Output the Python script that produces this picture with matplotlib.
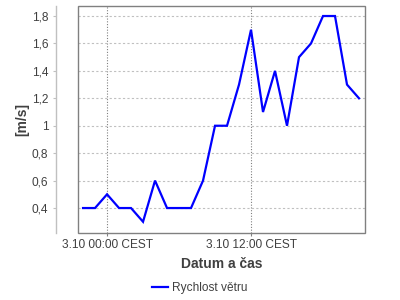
import matplotlib
matplotlib.use("Agg")
import matplotlib.pyplot as plt
from matplotlib.patches import Rectangle
import pandas as pd
import matplotlib.dates as mdates

# Data
start_time = "2024-10-02 22:00"
n_points = 24
wind_speed = [0.4, 0.4, 0.5, 0.4, 0.4, 0.3, 0.6, 0.4, 0.4, 0.4, 0.6, 1.0,
              1.0, 1.3, 1.7, 1.1, 1.4, 1.0, 1.5, 1.6, 1.8, 1.8, 1.3, 1.2]
series_name = "Rychlost větru"
x_label = "Datum a čas"
y_label = "[m/s]"
y_ticks = [0.4, 0.6, 0.8, 1.0, 1.2, 1.4, 1.6, 1.8]
y_tick_labels = ["0,4", "0,6", "0,8", "1", "1,2", "1,4", "1,6", "1,8"]
x_tick_times = ["2024-10-03 00:00", "2024-10-03 12:00"]
x_tick_labels = ["3.10 00:00 CEST", "3.10 12:00 CEST"]

times = pd.date_range(start_time, periods=n_points, freq="h")

plt.rcParams["font.family"] = ["Liberation Sans", "DejaVu Sans"]
txt = "#404040"

fig = plt.figure(figsize=(4, 3), dpi=100)
W, H = 400, 300
L, R, T, B = 78, 365, 6, 233
ax = fig.add_axes([L / W, 1 - B / H, (R - L) / W, (B - T) / H])

ax.plot(times, wind_speed, color="#0000ff", lw=1.6, label=series_name, solid_joinstyle="miter")

x0 = pd.Timestamp("2024-10-03 00:00")
ax.set_xlim(mdates.date2num(x0 - pd.Timedelta(hours=2.42)),
            mdates.date2num(x0 + pd.Timedelta(hours=21.5)))
ax.set_ylim(0.218, 1.873)

ax.set_yticks(y_ticks)
ax.set_yticklabels(y_tick_labels)
ax.set_xticks([mdates.date2num(pd.Timestamp(t)) for t in x_tick_times])
ax.set_xticklabels(x_tick_labels)

# grid
ax.yaxis.grid(True, color="#c0c0c0", lw=0.8, linestyle=(0, (2, 2)))
ax.xaxis.grid(True, color="#808080", lw=0.8, linestyle=(0, (1, 1.5)))
ax.set_axisbelow(True)

# spines
for s in ["top", "right", "bottom"]:
    ax.spines[s].set_visible(False)
ax.spines["left"].set_position(("outward", 22 * 0.72))
ax.spines["left"].set_color("#c0c0c0")
ax.spines["left"].set_linewidth(1.0)
ax.add_patch(Rectangle((0, 0), 1, 1, transform=ax.transAxes, fill=False,
                       edgecolor="#808080", lw=1.0, clip_on=False, zorder=5))

ax.tick_params(axis="y", length=2, width=0.8, color="#c0c0c0", labelcolor=txt,
               labelsize=8.6, pad=3.5)
ax.tick_params(axis="x", length=2.5, width=0.8, color="#808080", labelcolor=txt,
               labelsize=8.6, pad=2)

ax.set_xlabel(x_label, fontsize=10, fontweight="bold", color=txt, labelpad=4)
ax.set_ylabel(y_label, fontsize=10, fontweight="bold", color=txt, labelpad=2)

leg = fig.legend(loc="center", bbox_to_anchor=(0.5, 1 - 288 / H), frameon=False,
                 fontsize=8.6, handlelength=1.3, handletextpad=0.4, labelcolor=txt)

fig.savefig("out.png", dpi=100)
